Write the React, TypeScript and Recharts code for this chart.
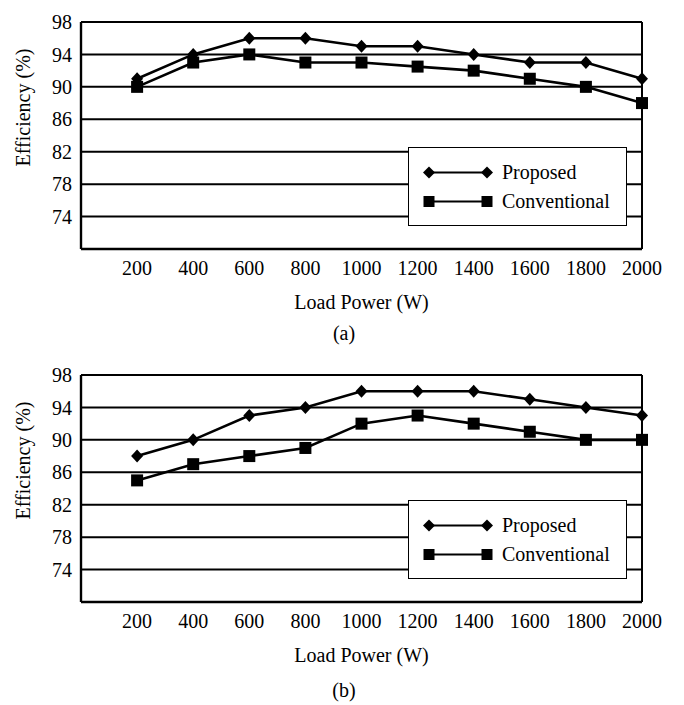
import React from "react";
import {
  LineChart,
  Line,
  XAxis,
  YAxis,
  CartesianGrid,
  ReferenceLine,
  Legend,
} from "recharts";

const LOADS = [200, 400, 600, 800, 1000, 1200, 1400, 1600, 1800, 2000];
const PROPOSED_A = [91, 94, 96, 96, 95, 95, 94, 93, 93, 91];
const CONVENTIONAL_A = [90, 93, 94, 93, 93, 92.5, 92, 91, 90, 88];
const PROPOSED_B = [88, 90, 93, 94, 96, 96, 96, 95, 94, 93];
const CONVENTIONAL_B = [85, 87, 88, 89, 92, 93, 92, 91, 90, 90];

const SERIES_NAMES = ["Proposed", "Conventional"];
const Y_TICKS = [74, 78, 82, 86, 90, 94, 98];
const Y_DOMAIN = [70, 98];
const X_DOMAIN = [0, 2000];

const FONT = "Liberation Serif, Tinos, Times New Roman, DejaVu Serif, serif";

function buildRows(proposed: number[], conventional: number[]) {
  return LOADS.map((load, i) => ({
    load,
    proposed: proposed[i],
    conventional: conventional[i],
  }));
}

function diamondDot(props: any) {
  const { cx, cy, index } = props;
  if (cx == null || cy == null) return <g key={`d-${index}`} />;
  return (
    <polygon
      key={`d-${index}`}
      points={`${cx},${cy - 6.5} ${cx + 6},${cy} ${cx},${cy + 6.5} ${cx - 6},${cy}`}
      fill="#000"
    />
  );
}

function squareDot(props: any) {
  const { cx, cy, index } = props;
  if (cx == null || cy == null) return <g key={`s-${index}`} />;
  return <rect key={`s-${index}`} x={cx - 6} y={cy - 6} width={12} height={12} fill="#000" />;
}

function LegendBox() {
  const rows = SERIES_NAMES.map((name, i) => (
    <div key={name} style={{ display: "flex", alignItems: "center", height: 29 }}>
      <svg width={93} height={29} style={{ display: "block" }}>
        <line x1={20} y1={14.5} x2={78} y2={14.5} stroke="#000" strokeWidth={2.2} />
        {i === 0 ? (
          <>
            <polygon points="20,8.5 26,14.5 20,20.5 14,14.5" fill="#000" />
            <polygon points="78,8.5 84,14.5 78,20.5 72,14.5" fill="#000" />
          </>
        ) : (
          <>
            <rect x={14.5} y={9} width={11} height={11} fill="#000" />
            <rect x={72.5} y={9} width={11} height={11} fill="#000" />
          </>
        )}
      </svg>
      <span style={{ fontFamily: FONT, fontSize: 20, color: "#000", lineHeight: "29px" }}>{name}</span>
    </div>
  ));
  return (
    <div
      style={{
        boxSizing: "border-box",
        width: 219,
        height: 79,
        border: "1.6px solid #000",
        background: "#fff",
        paddingTop: 10,
      }}
    >
      {rows}
    </div>
  );
}

function EfficiencyChart({ rows, height }: { rows: any[]; height: number }) {
  return (
    <LineChart
      width={684}
      height={height}
      data={rows}
      margin={{ top: 22, right: 42, bottom: height - 249 - 70, left: 0 }}
      style={{ fontFamily: FONT }}
    >
      <CartesianGrid vertical={false} stroke="#000" strokeWidth={2} />
      <XAxis
        dataKey="load"
        type="number"
        domain={X_DOMAIN}
        ticks={LOADS}
        height={70}
        tickLine={false}
        tickMargin={6}
        axisLine={{ stroke: "#000", strokeWidth: 2.4 }}
        tick={{ fontSize: 20, fill: "#000", fontFamily: FONT }}
        label={{
          content: (p: any) => {
            const vb = p.viewBox || {};
            return (
              <text
                x={vb.x + vb.width / 2}
                y={vb.y + 60}
                textAnchor="middle"
                fontSize={20}
                fontFamily={FONT}
                fill="#000"
              >
                Load Power (W)
              </text>
            );
          },
        }}
      />
      <YAxis
        type="number"
        domain={Y_DOMAIN}
        ticks={Y_TICKS}
        width={81}
        tickLine={false}
        tickMargin={3}
        axisLine={{ stroke: "#000", strokeWidth: 2.4 }}
        tick={{ fontSize: 20, fill: "#000", fontFamily: FONT }}
        label={{
          content: (p: any) => {
            const vb = p.viewBox || {};
            const cy = vb.y + vb.height / 2 - 28;
            return (
              <text
                x={30}
                y={cy}
                transform={`rotate(-90, 30, ${cy})`}
                textAnchor="middle"
                fontSize={20}
                fontFamily={FONT}
                fill="#000"
              >
                Efficiency (%)
              </text>
            );
          },
        }}
      />
      <ReferenceLine y={Y_DOMAIN[1]} stroke="#000" strokeWidth={2} />
      <ReferenceLine x={X_DOMAIN[1]} stroke="#000" strokeWidth={2} />
      <Line
        dataKey="proposed"
        name={SERIES_NAMES[0]}
        stroke="#000"
        strokeWidth={2.6}
        dot={diamondDot}
        activeDot={false}
        isAnimationActive={false}
      />
      <Line
        dataKey="conventional"
        name={SERIES_NAMES[1]}
        stroke="#000"
        strokeWidth={2.6}
        dot={squareDot}
        activeDot={false}
        isAnimationActive={false}
      />
      <Legend
        layout="vertical"
        align="center"
        verticalAlign="middle"
        wrapperStyle={{ left: 408, top: 147, width: 219, height: 79 }}
        content={() => <LegendBox />}
      />
    </LineChart>
  );
}

const captionStyle: React.CSSProperties = {
  position: "absolute",
  left: 344,
  transform: "translateX(-50%)",
  fontFamily: FONT,
  fontSize: 20,
  lineHeight: "20px",
  color: "#000",
};

export default function App() {
  return (
    <div style={{ position: "absolute", left: 0, top: 0, width: 684, height: 705, background: "#fff" }}>
      <div style={{ position: "absolute", left: 0, top: 0 }}>
        <EfficiencyChart rows={buildRows(PROPOSED_A, CONVENTIONAL_A)} height={353} />
      </div>
      <div style={{ position: "absolute", left: 0, top: 353 }}>
        <EfficiencyChart rows={buildRows(PROPOSED_B, CONVENTIONAL_B)} height={352} />
      </div>
      <div style={{ ...captionStyle, top: 323 }}>(a)</div>
      <div style={{ ...captionStyle, top: 680 }}>(b)</div>
    </div>
  );
}
